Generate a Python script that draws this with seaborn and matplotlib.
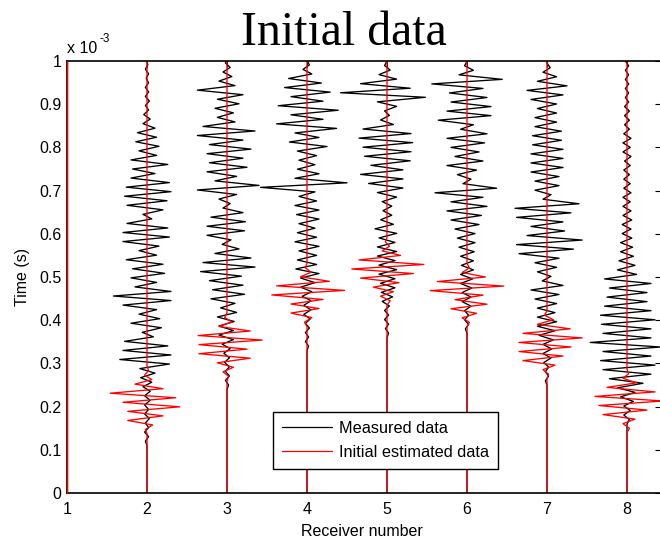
import numpy as np
import pandas as pd
import matplotlib
matplotlib.use("Agg")
import matplotlib.pyplot as plt
import seaborn as sns
from matplotlib.lines import Line2D

# ---------------- data (time in units of 1e-3 s, amplitude in receiver units) -------------
receivers = [1, 2, 3, 4, 5, 6, 7, 8]
x_tick_labels = ["1", "2", "3", "4", "5", "6", "7", "8"]
y_ticks = [0, 0.1, 0.2, 0.3, 0.4, 0.5, 0.6, 0.7, 0.8, 0.9, 1.0]
y_tick_labels = ["0", "0.1", "0.2", "0.3", "0.4", "0.5", "0.6", "0.7", "0.8", "0.9", "1"]
sample_step = 0.0105  # spacing between successive wiggle extremes

# onset time of the first listed extreme, per receiver
measured_onset = [None, 0.12, 0.25, 0.34, 0.37, 0.38, 0.26, 0.17]
estimated_onset = [None, 0.147, 0.27, 0.3955, 0.445, 0.395, 0.275, 0.15]

measured_r2 = [-0.02, 0.02, -0.03, 0.02, -0.02, 0.03, -0.03, 0.02, -0.03, 0.04, -0.03, 0.04, -0.05,
               0.06, -0.08, 0.1, -0.09,
               0.28, -0.34, 0.3, -0.3, 0.26, -0.28,
               0.08, -0.06,
               0.18, -0.2, 0.16,
               -0.1, 0.12,
               -0.3, 0.3, -0.42, 0.3,
               -0.15, 0.12,
               -0.2, 0.22, -0.18, 0.2,
               -0.26,
               0.12, -0.1,
               0.15,
               -0.3, 0.28, -0.3, 0.26,
               -0.25,
               0.06, -0.05,
               0.2, -0.25, 0.25, -0.28,
               0.3, -0.26,
               0.28, -0.2,
               0.1,
               -0.18, 0.26, -0.2,
               0.12, -0.1,
               0.15, -0.14,
               0.12, -0.12, 0.1,
               -0.05, 0.04, -0.04,
               0.02, -0.02, 0.03, -0.02, 0.02, -0.02, 0.02, -0.01, 0.02, -0.02, 0.01, -0.01]
measured_r3 = [0.02, -0.02, 0.03, -0.02, 0.03, -0.03, 0.03, -0.04, 0.04,
               -0.06, 0.08, -0.1, 0.08, -0.1, 0.09,
               -0.12, 0.12,
               -0.08, 0.1,
               -0.2, 0.22, -0.18,
               0.2, -0.22, 0.18,
               -0.33, 0.35, -0.3,
               0.3,
               -0.15, 0.15,
               -0.06, 0.05,
               -0.25, 0.22, -0.25, 0.23,
               -0.2, 0.2,
               -0.05, 0.04,
               -0.1, 0.12,
               -0.37, 0.4,
               -0.15, 0.12,
               -0.25, 0.25, -0.22,
               0.2, -0.25,
               0.3, -0.22,
               0.2,
               -0.37, 0.35, -0.3,
               0.1, -0.12, 0.08,
               -0.15,
               0.15, -0.12,
               0.2,
               -0.37,
               0.1, -0.1,
               0.06, -0.05, 0.04,
               -0.02, 0.02]
measured_r4 = [0.02, -0.02, 0.02, -0.02, 0.03, -0.02,
               0.04, -0.04, 0.05, -0.04, 0.05, -0.06, 0.06,
               -0.08, 0.1, -0.08,
               0.15, -0.14,
               0.12, -0.12,
               0.12, -0.1,
               0.15, -0.15,
               0.12, -0.12,
               0.1, -0.1,
               0.15, -0.13,
               0.15, -0.15,
               0.12, -0.1,
               0.1,
               -0.58, 0.5,
               -0.15,
               0.15, -0.12,
               0.1, -0.1,
               0.12, -0.12,
               0.25, -0.22,
               0.15, -0.15,
               0.37, -0.38,
               0.2, -0.2,
               0.39, -0.36,
               0.2, -0.2,
               0.29, -0.28,
               0.18, -0.23,
               0.06, -0.05,
               0.03]
measured_r5 = [0.02, -0.02, 0.02, -0.03, 0.02, -0.03, 0.03,
               -0.06, 0.07, -0.07,
               0.1, -0.08, 0.1,
               -0.1, 0.12, -0.1, 0.1, -0.12,
               0.12, -0.12,
               0.1, -0.1,
               0.12, -0.15,
               0.08, -0.08,
               0.06, -0.05,
               0.06, -0.06,
               0.12, -0.12,
               0.2, -0.23,
               0.2, -0.33,
               0.2, -0.2,
               0.29, -0.28,
               0.3, -0.3,
               0.32, -0.35,
               0.3, -0.3,
               0.08, -0.08,
               0.03, -0.03,
               0.12, -0.12,
               0.48, -0.58,
               0.29, -0.33,
               0.12, -0.1,
               0.04, -0.03]
measured_r6 = [-0.02, 0.02, -0.03, 0.02, -0.03,
               0.05, -0.06, 0.05, -0.06, 0.06,
               -0.08, 0.07, -0.08, 0.08, -0.07,
               0.08, -0.08, 0.09,
               -0.1, 0.1,
               -0.12, 0.1,
               -0.15, 0.15,
               -0.2, 0.18,
               -0.25, 0.25,
               -0.2, 0.2,
               -0.4, 0.37,
               -0.05, 0.05,
               -0.12, 0.12,
               -0.25, 0.2,
               -0.15, 0.15,
               -0.2, 0.22,
               -0.25, 0.25,
               -0.08, 0.08,
               -0.36, 0.3,
               -0.25, 0.3,
               -0.2, 0.25,
               -0.22, 0.2,
               -0.44, 0.44,
               -0.1, 0.08,
               -0.03]
measured_r7 = [-0.02, 0.02, -0.02, 0.02,
               -0.04, 0.05, -0.05, 0.06, -0.05,
               0.08, -0.1, 0.1,
               -0.12, 0.12,
               -0.12, 0.1,
               -0.12, 0.12,
               -0.15, 0.15,
               -0.2, 0.2,
               -0.06, 0.05,
               -0.12, 0.12,
               -0.15, 0.15,
               -0.35, 0.33,
               -0.38, 0.44,
               -0.25, 0.22,
               -0.2, 0.2,
               -0.38, 0.3,
               -0.4, 0.4,
               -0.05, 0.05,
               -0.15, 0.15,
               -0.15, 0.15,
               -0.2, 0.2,
               -0.2, 0.2,
               -0.2, 0.2,
               -0.18, 0.18,
               -0.18, 0.18,
               -0.15, 0.12,
               -0.15, 0.12,
               -0.12, 0.12,
               -0.2, 0.2,
               -0.25, 0.25,
               -0.12, 0.12,
               -0.05, 0.04]
measured_r8 = [0.03, -0.04, 0.04, -0.04,
               0.08, -0.08,
               0.1, -0.12,
               0.2, -0.22,
               0.3, -0.3,
               0.35, -0.33,
               0.3, -0.3,
               0.42, -0.46,
               0.3, -0.3,
               0.3, -0.32,
               0.35, -0.33,
               0.3, -0.28,
               0.25, -0.25,
               0.25, -0.22,
               0.3, -0.28,
               0.12, -0.12,
               0.1, -0.1,
               0.08, -0.08, 0.07, -0.08,
               0.06, -0.06, 0.05, -0.06, 0.06, -0.05,
               0.05, -0.05, 0.04, -0.05, 0.05, -0.04,
               0.04, -0.04, 0.03, -0.04, 0.04, -0.03,
               0.05, -0.05, 0.04, -0.05, 0.05, -0.04,
               0.03, -0.03, 0.03, -0.03, 0.03, -0.03,
               0.02, -0.02, 0.02, -0.02, 0.02, -0.02, 0.02, -0.02, 0.02, -0.02]

estimated_r2 = [-0.02, 0.07, -0.24, 0.2, -0.24, 0.41, -0.3, 0.36, -0.46, 0.2, -0.15, 0.06, -0.03, 0.02]
estimated_r3 = [0.02, -0.05, 0.08, -0.12, 0.29, -0.35, 0.25, -0.35, 0.44, -0.36, 0.29, -0.1, 0.06, -0.03]
estimated_r4 = [-0.03, 0.06, -0.2, 0.15, -0.2, 0.2, -0.44, 0.47, -0.38, 0.28, -0.08, 0.05, -0.02]
estimated_r5 = [0.04, -0.08, 0.08, -0.17, 0.15, -0.33, 0.33, -0.44, 0.46, -0.35, 0.17, -0.06, 0.03, -0.02]
estimated_r6 = [0.03, -0.06, 0.12, -0.2, 0.25, -0.15, 0.2, -0.46, 0.46, -0.37, 0.23, -0.06, 0.03]
estimated_r7 = [0.02, -0.05, 0.1, -0.3, 0.2, -0.35, 0.3, -0.35, 0.44, -0.3, 0.29, -0.12, 0.08, -0.03]
estimated_r8 = [0.03, -0.05, 0.1, -0.3, 0.25, -0.35, 0.45, -0.4, 0.35, -0.25, 0.12, -0.05, 0.02]

measured = [[], measured_r2, measured_r3, measured_r4, measured_r5, measured_r6, measured_r7, measured_r8]
estimated = [[], estimated_r2, estimated_r3, estimated_r4, estimated_r5, estimated_r6, estimated_r7, estimated_r8]
series_names = ["Measured data", "Initial estimated data"]
series_colors = ["#000000", "#ff0000"]

# ---------------- build long table ----------------
rows = []


def add_trace(receiver, series, onset, amps):
    if len(amps) == 0:
        t = [0.0, 1.0]
        a = [0.0, 0.0]
    else:
        times = list(onset + sample_step * np.arange(len(amps)))
        last = times[-1] + sample_step
        t = [0.0, onset - sample_step] + times + [last]
        a = [0.0, 0.0] + list(amps) + [0.0]
        if last < 1.0:
            t.append(1.0)
            a.append(0.0)
    for ti, ai in zip(t, a):
        rows.append({"receiver": receiver, "series": series, "time": ti,
                     "position": receiver + ai})


for i, r in enumerate(receivers):
    add_trace(r, series_names[0], measured_onset[i], measured[i])
for i, r in enumerate(receivers):
    add_trace(r, series_names[1], estimated_onset[i], estimated[i])

df = pd.DataFrame(rows)

# ---------------- plot ----------------
sns.set_style("white")
plt.rcParams["font.family"] = ["Liberation Sans", "DejaVu Sans"]
plt.rcParams["text.color"] = "black"
plt.rcParams["axes.labelcolor"] = "black"
plt.rcParams["xtick.color"] = "black"
plt.rcParams["ytick.color"] = "black"

fig = plt.figure(figsize=(6.6, 5.42), dpi=100)
ax = fig.add_axes([67 / 660, 49 / 542, 594 / 660, 432 / 542])

sns.lineplot(data=df, x="position", y="time", hue="series", units="receiver",
             estimator=None, sort=False, orient="y", palette=series_colors,
             hue_order=series_names, linewidth=0.95, legend=False, ax=ax)

for ln in ax.lines:
    xd = np.asarray(ln.get_xdata(), dtype=float)
    if len(xd) and np.allclose(xd, 1.0):
        ln.set_clip_on(False)
        ln.set_zorder(3)

ax.set_xlim(1, 1 + 594 / 80)
ax.set_ylim(0, 1)
ax.set_xticks(receivers)
ax.set_xticklabels(x_tick_labels)
ax.set_yticks(y_ticks)
ax.set_yticklabels(y_tick_labels)

ax.tick_params(axis="both", direction="in", length=4.3, width=0.8, colors="black",
               labelsize=11.5, top=True, right=True)
ax.tick_params(axis="x", pad=6.5)
ax.tick_params(axis="y", pad=3.8)
for s in ax.spines.values():
    s.set_color("black")
    s.set_linewidth(1.2)

ax.set_xlabel("Receiver number", fontsize=11.5, color="black")
ax.set_ylabel("Time (s)", fontsize=11.5, color="black")
ax.xaxis.set_label_coords(0.4966, -0.072)
ax.yaxis.set_label_coords(-0.062, 0.5)

ax.annotate("x 10", xy=(0, 1), xycoords="axes fraction", xytext=(0, 8),
            textcoords="offset pixels", fontsize=11.5, ha="left", va="baseline",
            color="black")
ax.annotate("-3", xy=(0, 1), xycoords="axes fraction", xytext=(32, 19),
            textcoords="offset pixels", fontsize=8.5, ha="left", va="baseline",
            color="black")

fig.text(344 / 660, (542 - 45) / 542, "Initial data", fontsize=34.5, color="black",
         family=["Liberation Serif", "DejaVu Serif"], ha="center", va="baseline")

handles = [Line2D([], [], color=c, lw=0.9) for c in series_colors]
leg = ax.legend(handles, series_names, loc="lower left",
                bbox_to_anchor=((273 - 67) / 594, (493 - 469) / 432),
                borderaxespad=0, frameon=True, fancybox=False, edgecolor="black",
                framealpha=1, fontsize=11.7, handlelength=3.1, handletextpad=0.4,
                borderpad=0.55, labelspacing=0.55)
leg.get_frame().set_linewidth(1.0)
for txt in leg.get_texts():
    txt.set_color("black")

fig.savefig("out.png", dpi=100)
